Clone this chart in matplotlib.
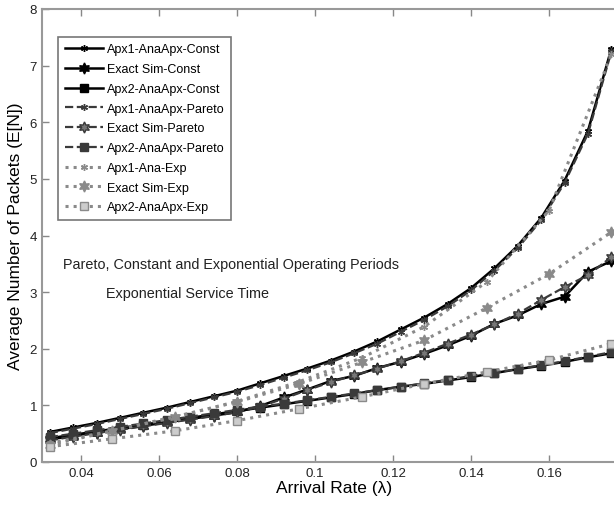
import numpy as np
import matplotlib
matplotlib.use("Agg")
from matplotlib import pyplot as plt

# arrival rates
lam = [0.032, 0.038, 0.044, 0.050, 0.056, 0.062, 0.068, 0.074, 0.080, 0.086,
       0.092, 0.098, 0.104, 0.110, 0.116, 0.122, 0.128, 0.134, 0.140, 0.146,
       0.152, 0.158, 0.164, 0.170, 0.176]
lam_exp = [0.032, 0.048, 0.064, 0.080, 0.096, 0.112, 0.128, 0.144, 0.160, 0.176]

# constant operating periods
apx1_const = [0.53, 0.61, 0.69, 0.78, 0.87, 0.96, 1.06, 1.16, 1.26, 1.39,
              1.52, 1.65, 1.79, 1.95, 2.13, 2.34, 2.55, 2.79, 3.07, 3.42,
              3.82, 4.31, 4.97, 5.85, 7.30]
exact_const = [0.40, 0.46, 0.52, 0.58, 0.64, 0.70, 0.76, 0.82, 0.88, 0.99,
               1.14, 1.28, 1.43, 1.52, 1.66, 1.77, 1.91, 2.06, 2.23, 2.44,
               2.59, 2.79, 2.92, 3.36, 3.55]
apx2_const = [0.42, 0.48, 0.54, 0.60, 0.66, 0.72, 0.78, 0.84, 0.90, 0.96,
              1.02, 1.08, 1.14, 1.20, 1.27, 1.33, 1.38, 1.44, 1.50, 1.57,
              1.64, 1.70, 1.77, 1.85, 1.92]

# pareto operating periods
apx1_pareto = [0.51, 0.59, 0.67, 0.76, 0.85, 0.94, 1.04, 1.14, 1.24, 1.36,
               1.49, 1.62, 1.76, 1.92, 2.09, 2.30, 2.51, 2.75, 3.03, 3.38,
               3.78, 4.27, 4.93, 5.80, 7.25]
exact_pareto = [0.38, 0.45, 0.51, 0.57, 0.63, 0.69, 0.75, 0.81, 0.88, 0.98,
                1.12, 1.27, 1.41, 1.53, 1.65, 1.78, 1.93, 2.09, 2.25, 2.43,
                2.62, 2.86, 3.09, 3.30, 3.62]
apx2_pareto = [0.44, 0.50, 0.56, 0.62, 0.68, 0.74, 0.80, 0.86, 0.92, 0.98,
               1.03, 1.09, 1.15, 1.21, 1.27, 1.33, 1.39, 1.45, 1.52, 1.58,
               1.64, 1.71, 1.78, 1.86, 1.94]

# exponential operating periods
apx1_exp = [0.33, 0.55, 0.79, 1.07, 1.42, 1.84, 2.39, 3.18, 4.44, 7.20]
exact_exp = [0.30, 0.55, 0.80, 1.06, 1.38, 1.76, 2.15, 2.72, 3.32, 4.06]
apx2_exp = [0.27, 0.41, 0.55, 0.73, 0.94, 1.15, 1.38, 1.59, 1.80, 2.09]

plt.rcParams['font.family'] = ['Liberation Sans', 'DejaVu Sans']

fig = plt.figure(figsize=(6.14, 5.06), dpi=100)
ax = fig.add_axes([42 / 614, 43 / 506, 585 / 614, 453 / 506])

ast = (6, 2, 0)   # asterisk
star = (6, 1, 0)  # hexagram

c1, c2, c3 = 'black', '#3a3a3a', '#8a8a8a'

ax.plot(lam, apx1_const, '-', color=c1, lw=1.8, marker=ast, ms=5, label='Apx1-AnaApx-Const')
ax.plot(lam, exact_const, '-', color=c1, lw=1.8, marker=star, ms=8, label='Exact Sim-Const')
ax.plot(lam, apx2_const, '-', color=c1, lw=1.8, marker='s', ms=6, label='Apx2-AnaApx-Const')
ax.plot(lam, apx1_pareto, '--', color=c2, lw=1.6, marker=ast, ms=5, label='Apx1-AnaApx-Pareto')
ax.plot(lam, exact_pareto, '--', color=c2, lw=1.6, marker=star, ms=8,
        markerfacecolor='#777777', label='Exact Sim-Pareto')
ax.plot(lam, apx2_pareto, '--', color=c2, lw=1.6, marker='s', ms=6, label='Apx2-AnaApx-Pareto')
ax.plot(lam_exp, apx1_exp, ':', color=c3, lw=2.2, marker=ast, ms=5, label='Apx1-Ana-Exp')
ax.plot(lam_exp, exact_exp, ':', color=c3, lw=2.2, marker=star, ms=8, label='Exact Sim-Exp')
ax.plot(lam_exp, apx2_exp, ':', color=c3, lw=2.2, marker='s', ms=6,
        markerfacecolor='#cccccc', label='Apx2-AnaApx-Exp')

ax.set_xlim(0.03, 0.18)
ax.set_ylim(0, 8)
ax.set_xticks([0.04, 0.06, 0.08, 0.1, 0.12, 0.14, 0.16])
ax.set_xticklabels(['0.04', '0.06', '0.08', '0.1', '0.12', '0.14', '0.16'])
ax.set_yticks(range(9))
ax.tick_params(direction='in', top=True, right=True, length=5, width=1,
               color='#888888', labelsize=9.5, labelcolor='#222222')
for s in ax.spines.values():
    s.set_color('#999999')
    s.set_linewidth(1.5)

ax.set_xlabel('Arrival Rate (\u03bb)', fontsize=12.5, labelpad=1)
ax.set_ylabel('Average Number of Packets (E[N])', fontsize=12.5, labelpad=5)

ax.text(0.0355, 3.5, 'Pareto, Constant and Exponential Operating Periods',
        fontsize=10.4, va='center', color='#222222')
ax.text(0.0465, 2.98, 'Exponential Service Time', fontsize=10.4, va='center', color='#222222')

leg = ax.legend(loc='upper left', bbox_to_anchor=(0.017, 0.953), fontsize=9,
                handlelength=3.0, labelspacing=0.62, borderpad=0.55,
                fancybox=False, framealpha=1, handletextpad=0.35)
leg.get_frame().set_edgecolor('#777777')
leg.get_frame().set_linewidth(1.2)

fig.savefig('out.png', dpi=100)
